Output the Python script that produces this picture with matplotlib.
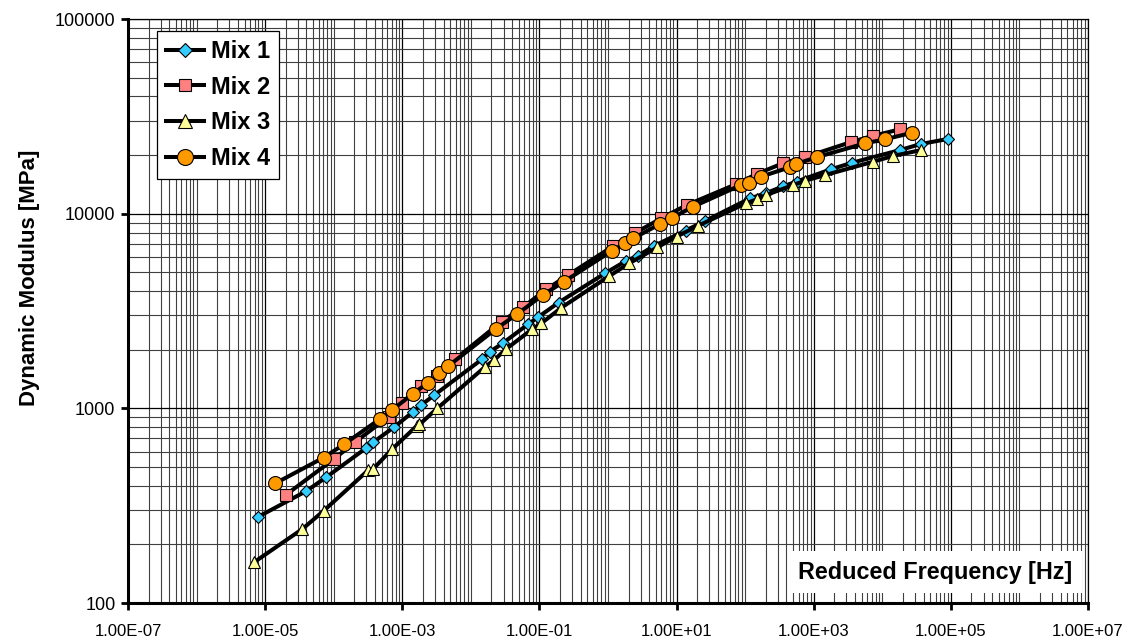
import matplotlib
matplotlib.use("Agg")
import matplotlib.pyplot as plt
from matplotlib.ticker import FixedLocator, LogLocator, FuncFormatter, NullFormatter

plt.rcParams['font.family'] = ['Liberation Sans', 'DejaVu Sans']

# ---- data ----
mix1_f = [7.9e-6, 4.0e-5, 7.8e-5, 2.95e-4, 3.8e-4, 7.6e-4, 1.45e-3, 1.86e-3, 2.9e-3,
          1.45e-2, 1.9e-2, 2.9e-2, 6.9e-2, 9.5e-2, 0.19, 0.91, 1.86, 2.7, 4.7, 13.5,
          26, 117, 200, 355, 562, 1780, 3630, 18200, 36300, 91000]
mix1_E = [277, 376, 443, 624, 671, 801, 962, 1036, 1166,
          1786, 1954, 2157, 2711, 2935, 3492, 4943, 5740, 6063, 6830, 8185,
          9170, 11970, 12740, 13800, 14620, 16900, 18270, 21230, 22790, 24200]

mix2_f = [2.0e-5, 1.02e-4, 2.04e-4, 6.3e-4, 1.0e-3, 1.86e-3, 3.16e-3, 5.9e-3,
          2.8e-2, 5.75e-2, 0.126, 0.263, 1.2, 2.45, 6.0, 14.1, 74, 148, 355, 741,
          3550, 7240, 18200]
mix2_E = [359, 551, 669, 906, 1069, 1302, 1472, 1788,
          2790, 3307, 4085, 4840, 6830, 7940, 9470, 11080, 14180, 16000, 18150, 19500,
          23360, 25080, 27130]

mix3_f = [6.9e-6, 3.5e-5, 7.1e-5, 3.2e-4, 3.8e-4, 7.1e-4, 1.62e-3, 1.78e-3, 3.24e-3,
          1.62e-2, 2.19e-2, 3.24e-2, 7.9e-2, 0.107, 0.209, 1.05, 2.04, 5.25, 10, 20.4,
          102, 148, 204, 501, 741, 1480, 7410, 14450, 37150]
mix3_E = [162, 240, 297, 482, 490, 617, 811, 826, 1000,
          1636, 1772, 2012, 2556, 2737, 3290, 4786, 5560, 6714, 7625, 8650,
          11300, 11850, 12480, 14030, 14750, 15800, 18500, 19800, 21230]

mix4_f = [1.41e-5, 7.1e-5, 1.41e-4, 4.7e-4, 7.1e-4, 1.41e-3, 2.4e-3, 3.47e-3, 4.7e-3,
          2.29e-2, 4.7e-2, 0.112, 0.229, 1.15, 1.78, 2.34, 5.75, 8.7, 17.4,
          87, 112, 170, 447, 550, 1100, 5620, 10960, 27540]
mix4_E = [412, 558, 653, 881, 980, 1185, 1355, 1514, 1651,
          2549, 3041, 3822, 4477, 6454, 7040, 7470, 8850, 9530, 10860,
          14030, 14430, 15490, 17300, 17990, 19490, 22980, 24100, 26060]

series_labels = ["Mix 1", "Mix 2", "Mix 3", "Mix 4"]
x_ticks = [1e-7, 1e-5, 1e-3, 1e-1, 1e1, 1e3, 1e5, 1e7]
y_ticks = [100, 1000, 10000, 100000]

# ---- figure ----
fig = plt.figure(figsize=(11.41, 6.44), dpi=100)
ax = fig.add_axes([128/1141, 1 - 603/644, 960/1141, 584/644])

styles = [
    dict(marker='D', ms=5.8, mfc='#33CCFF'),
    dict(marker='s', ms=8, mfc='#FF8080'),
    dict(marker='^', ms=8.5, mfc='#FFFF99'),
    dict(marker='o', ms=10, mfc='#FF9900'),
]
data = [(mix1_f, mix1_E), (mix2_f, mix2_E), (mix3_f, mix3_E), (mix4_f, mix4_E)]
for (f, E), lab, st in zip(data, series_labels, styles):
    ax.plot(f, E, color='black', lw=2.9, mec='black', mew=0.8, label=lab,
            zorder=3, clip_on=False, **st)

ax.set_xscale('log')
ax.set_yscale('log')
ax.set_xlim(1e-7, 1e7)
ax.set_ylim(100, 100000)

ax.xaxis.set_major_locator(FixedLocator(x_ticks))
ax.xaxis.set_major_formatter(FuncFormatter(lambda v, p: f"{v:.2E}"))
ax.xaxis.set_minor_locator(LogLocator(base=10, subs=[1, 2, 3, 4, 5, 6, 7, 8, 9], numticks=100))
ax.xaxis.set_minor_formatter(NullFormatter())
ax.yaxis.set_major_locator(FixedLocator(y_ticks))
ax.yaxis.set_major_formatter(FuncFormatter(lambda v, p: f"{int(round(v))}"))
ax.yaxis.set_minor_locator(LogLocator(base=10, subs=[2, 3, 4, 5, 6, 7, 8, 9], numticks=100))
ax.yaxis.set_minor_formatter(NullFormatter())

ax.grid(True, which='major', color='black', lw=0.9, zorder=0)
ax.grid(True, which='minor', color='#404040', lw=0.8, zorder=0)
ax.set_axisbelow(True)

ax.tick_params(axis='both', which='major', direction='out', length=5, width=2,
               colors='black')
ax.tick_params(axis='x', which='major', labelsize=12, pad=10)
ax.tick_params(axis='y', which='major', labelsize=13, pad=4)
ax.tick_params(axis='both', which='minor', length=0)

for s in ['left', 'bottom']:
    ax.spines[s].set_linewidth(2.2)
for s in ['top', 'right']:
    ax.spines[s].set_linewidth(0.9)

ax.set_ylabel("Dynamic Modulus [MPa]", fontsize=16, fontweight='bold')
ax.yaxis.set_label_coords(-0.092, 0.556)
ax.text(0.984, 0.053, "Reduced Frequency [Hz]", transform=ax.transAxes,
        ha='right', va='center', fontsize=16.8, fontweight='bold', zorder=5,
        bbox=dict(facecolor='white', edgecolor='none', pad=7))

leg = ax.legend(loc='upper left', bbox_to_anchor=(0.030, 0.979),
                prop=dict(weight='bold', size=17), frameon=True, fancybox=False,
                edgecolor='black', framealpha=1, handlelength=1.6,
                handletextpad=0.3, labelspacing=0.53, borderpad=0.38,
                borderaxespad=0, markerscale=1.15)
leg.get_frame().set_linewidth(0.9)
leg.set_zorder(6)

fig.savefig("out.png", dpi=100)
